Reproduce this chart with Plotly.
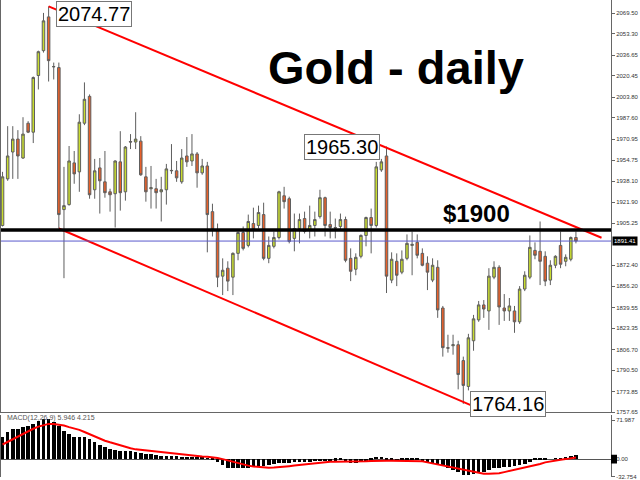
import plotly.graph_objects as go

# ---------------- data ----------------
opens = [1903.6, 1940.0, 1961.0, 1971.1, 1956.3, 1983.5, 1976.5, 2020.8, 2040.2, 2066.6,
         2027.5, 2027.0, 1916.0, 1919.9, 1952.5, 1945.5, 1983.5, 2004.5, 1931.5, 1948.6,
         1937.7, 1929.9, 1928.4, 1953.3, 1929.9, 1969.2, 1968.8, 1969.5, 1941.6, 1932.3,
         1932.3, 1929.9, 1931.5, 1946.3, 1946.3, 1937.7, 1957.9, 1954.0, 1959.5, 1944.7,
         1950.1, 1914.4, 1899.7, 1864.0, 1870.2, 1863.2, 1881.8, 1898.1, 1888.0, 1905.1,
         1903.6, 1912.1, 1877.9, 1887.3, 1894.2, 1926.8, 1924.5, 1893.5, 1901.2, 1909.0,
         1899.7, 1903.6, 1910.5, 1925.3, 1904.3, 1902.0, 1902.8, 1908.2, 1877.9, 1869.4,
         1879.5, 1895.8, 1909.8, 1903.6, 1947.0, 1957.9, 1860.9, 1875.6, 1867.1, 1877.9,
         1888.0, 1890.4, 1881.8, 1874.1, 1860.9, 1870.9, 1839.1, 1808.1, 1809.6, 1810.4,
         1798.0, 1777.8, 1813.5, 1829.8, 1841.5, 1836.8, 1863.2, 1870.9, 1839.1, 1836.8,
         1836.8, 1828.3, 1853.9, 1863.2, 1884.1, 1883.4, 1879.5, 1860.9, 1872.5, 1888.0,
         1875.6, 1877.2, 1894.2]
highs = [1945.5, 1981.2, 1981.2, 1978.1, 1988.2, 1985.1, 2020.0, 2040.2, 2069.7, 2074.77,
         2030.9, 2030.9, 1949.4, 1965.7, 1961.8, 1990.5, 2015.4, 2006.0, 1955.6, 1956.3,
         1961.8, 1932.3, 1954.5, 1977.3, 1965.7, 1975.0, 1992.1, 1973.4, 1949.4, 1950.1,
         1940.0, 1941.6, 1951.7, 1967.2, 1954.0, 1963.3, 1972.7, 1975.0, 1961.0, 1955.6,
         1953.3, 1920.6, 1905.1, 1877.9, 1875.6, 1882.6, 1898.9, 1902.8, 1912.1, 1917.5,
         1919.1, 1921.4, 1895.0, 1898.9, 1930.7, 1933.8, 1926.1, 1912.9, 1912.9, 1914.4,
         1919.1, 1914.4, 1931.5, 1926.1, 1914.4, 1909.0, 1912.9, 1910.5, 1885.7, 1881.8,
         1896.6, 1910.5, 1916.8, 1953.3, 1955.6, 1965.30, 1882.6, 1881.8, 1884.1, 1896.6,
         1898.9, 1896.6, 1885.7, 1879.5, 1877.9, 1876.4, 1840.7, 1818.2, 1818.2, 1813.5,
         1801.1, 1818.9, 1833.7, 1844.6, 1845.3, 1870.2, 1875.6, 1872.5, 1850.0, 1846.9,
         1840.7, 1856.2, 1867.8, 1895.8, 1890.4, 1906.7, 1883.4, 1876.4, 1880.3, 1898.9,
         1881.0, 1895.0, 1898.9]
lows = [1902.8, 1938.5, 1940.0, 1940.0, 1955.6, 1975.8, 1968.0, 2009.9, 2038.7, 2016.1,
        2017.7, 1901.2, 1862.4, 1919.1, 1936.2, 1929.9, 1982.0, 1924.5, 1924.5, 1912.9,
        1925.3, 1914.4, 1902.0, 1915.2, 1923.0, 1963.3, 1963.3, 1942.4, 1922.2, 1916.8,
        1916.8, 1906.7, 1919.9, 1943.9, 1937.7, 1936.2, 1949.4, 1950.1, 1933.1, 1943.2,
        1882.6, 1895.0, 1855.4, 1849.2, 1852.3, 1849.2, 1876.4, 1884.1, 1886.5, 1893.5,
        1901.2, 1876.4, 1874.1, 1885.7, 1892.7, 1916.8, 1889.6, 1883.4, 1889.6, 1897.3,
        1893.5, 1895.0, 1909.0, 1895.0, 1893.5, 1893.5, 1899.7, 1874.8, 1860.1, 1864.7,
        1877.9, 1887.3, 1881.8, 1902.0, 1945.5, 1850.8, 1858.5, 1856.2, 1865.5, 1876.4,
        1864.7, 1877.9, 1871.7, 1853.1, 1859.3, 1831.4, 1801.1, 1804.2, 1802.6, 1775.5,
        1764.16, 1774.7, 1805.7, 1828.3, 1831.4, 1822.0, 1861.6, 1825.9, 1829.0, 1829.0,
        1819.7, 1826.7, 1852.3, 1861.6, 1877.2, 1857.0, 1856.2, 1857.0, 1870.2, 1870.2,
        1871.7, 1875.6, 1889.6]
closes = [1941.6, 1957.9, 1971.1, 1957.9, 1975.0, 1976.5, 2019.2, 2039.4, 2063.5, 2032.4,
          2027.8, 1912.1, 1919.1, 1954.0, 1943.9, 1984.3, 2002.2, 1927.6, 1946.3, 1938.5,
          1929.2, 1927.6, 1954.0, 1929.2, 1964.9, 1968.8, 1971.1, 1943.2, 1929.9, 1933.1,
          1929.2, 1931.5, 1947.8, 1946.6, 1940.8, 1956.3, 1953.3, 1959.5, 1944.7, 1950.1,
          1912.1, 1900.5, 1863.2, 1868.6, 1860.1, 1881.8, 1898.1, 1885.7, 1906.7, 1900.5,
          1913.7, 1877.9, 1888.0, 1894.2, 1929.9, 1922.2, 1891.1, 1901.2, 1908.2, 1898.9,
          1903.6, 1908.2, 1925.3, 1903.6, 1902.0, 1901.6, 1908.2, 1876.4, 1867.8, 1878.7,
          1895.8, 1909.8, 1903.6, 1949.4, 1953.3, 1864.0, 1877.2, 1864.7, 1877.2, 1889.6,
          1888.8, 1880.3, 1872.5, 1867.1, 1872.5, 1837.6, 1808.1, 1807.7, 1810.4, 1787.1,
          1778.6, 1815.8, 1830.6, 1841.5, 1838.3, 1864.0, 1870.9, 1839.9, 1836.8, 1840.7,
          1828.3, 1853.9, 1864.7, 1886.5, 1880.3, 1875.6, 1860.1, 1872.5, 1879.5, 1873.3,
          1878.7, 1894.2, 1891.41]

macd_main = [40, 49, 54, 55, 58, 61, 65, 70, 73, 73,
             68, 60, 52, 46, 41, 40, 40, 36, 30, 25,
             21, 18, 17, 15, 14, 14, 12.5, 11, 9, 8,
             6.5, 5.4, 4.8, 4.8, 4.2, 3.6, 3.6, 3, 3, 2.4,
             1.2, -1.2, -6, -12, -17, -18, -18, -18, -17, -16,
             -14, -13, -11, -9.5, -7.7, -7, -7, -6.5, -6, -6,
             -5.4, -4.8, -4.8, -4, -4, -3.5, -3, -6, -7, -7,
             -6, -4, -3.5, 2, 3, -2, -3, -4, -3, -2.5,
             -2, -2.5, -4, -6, -7, -9, -14, -17, -20, -24,
             -30, -30, -28, -26, -24, -21, -18, -17, -16, -15,
             -14, -11, -9, -6, -3, -2, -1, 0, 0.6, 1.2,
             2.4, 4.2, 6]
macd_signal = [27, 32, 37, 42, 47, 52, 56, 60, 63, 65,
               65, 64, 62, 59, 57, 54, 50, 46, 41, 37,
               34, 31, 28, 25, 22, 20, 18, 17, 15, 14,
               13, 12, 11, 10, 9, 8.5, 7.5, 6.5, 6, 5,
               4.5, 3.5, 2, 0, -2.5, -5, -7.5, -10, -12, -13.5,
               -14.5, -15, -16, -15.5, -15, -14, -13, -12, -11, -10,
               -9, -8, -6, -5.5, -5, -5, -5, -5, -5, -5,
               -4.5, -4, -3.5, -3, -3, -3, -3, -3, -3, -3,
               -3, -3, -4, -6, -8, -10, -12, -14, -16, -18,
               -20, -22, -24, -26, -27, -27, -26.5, -26, -24, -22,
               -20, -18, -16, -14, -11.5, -9, -6, -4, -2.5, -1,
               0, 1.5, 3]

bar_index = list(range(len(opens)))

price_ticks = [2069.50, 2053.30, 2036.65, 2020.45, 2003.80, 1987.60, 1970.95,
               1954.75, 1938.10, 1921.90, 1905.25, 1872.40, 1856.20,
               1839.55, 1823.35, 1806.70, 1790.50, 1773.85, 1757.65]
macd_ticks = [71.987, 0.0, -32.754]
macd_tick_text = ["71.987", "0.00", "-32.754"]

# trend channel anchors (bar index, price)
upper_x = [9, 117.0]
upper_y = [2074.77, 1894.0]
lower_x = [11, 95.2]
lower_y = [1901.2, 1756.8]

level_1900 = 1900.0
last_price = 1891.41
high_label = (9, 2074.77, "2074.77")
mid_label = (75, 1965.30, "1965.30")
low_label = (90, 1764.16, "1764.16")

# ---------------- figure ----------------
fig = go.Figure()

fig.add_trace(go.Candlestick(
    x=bar_index, open=opens, high=highs, low=lows, close=closes,
    increasing=dict(fillcolor="#c8dc30", line=dict(color="#5e5e5e", width=1)),
    decreasing=dict(fillcolor="#e8602a", line=dict(color="#5e5e5e", width=1)),
    whiskerwidth=0, showlegend=False, xaxis="x", yaxis="y", hoverinfo="skip"))

fig.add_trace(go.Scatter(x=upper_x, y=upper_y, mode="lines",
                         line=dict(color="#ff0000", width=2), showlegend=False,
                         xaxis="x", yaxis="y", hoverinfo="skip"))
fig.add_trace(go.Scatter(x=lower_x, y=lower_y, mode="lines",
                         line=dict(color="#ff0000", width=2), showlegend=False,
                         xaxis="x", yaxis="y", hoverinfo="skip"))

fig.add_trace(go.Bar(x=bar_index, y=macd_main, marker=dict(color="#000000", line=dict(width=0)),
                     width=0.7, showlegend=False, xaxis="x2", yaxis="y2", hoverinfo="skip"))
fig.add_trace(go.Scatter(x=bar_index, y=macd_signal, mode="lines",
                         line=dict(color="#ff0000", width=2), showlegend=False,
                         xaxis="x2", yaxis="y2", hoverinfo="skip"))

tick_font = dict(family="Liberation Sans, Arial", size=6, color="#333")
xr = [-0.3, 118.85]
fig.update_layout(
    width=640, height=480,
    margin=dict(l=1, r=29, t=0, b=0),
    paper_bgcolor="white", plot_bgcolor="white",
    bargap=0,
    xaxis=dict(domain=[0, 1], range=xr, showgrid=False, zeroline=False,
               showticklabels=False, ticks="", rangeslider=dict(visible=False),
               showline=True, linecolor="#666", linewidth=1, anchor="y"),
    yaxis=dict(domain=[65 / 480, 1], range=[1757.5, 2079.8], side="right",
               showgrid=False, zeroline=False, tickvals=price_ticks,
               ticktext=["%.2f" % v for v in price_ticks],
               ticks="outside", ticklen=3, tickcolor="#666", tickfont=tick_font,
               showline=True, linecolor="#666", linewidth=1, mirror=True, anchor="x"),
    xaxis2=dict(domain=[0, 1], range=xr, showgrid=False, zeroline=False,
                showticklabels=False, ticks="", anchor="y2", showline=False),
    yaxis2=dict(domain=[0, 62 / 480], range=[-33, 80.7], side="right",
                showgrid=False, zeroline=True, zerolinecolor="#555", zerolinewidth=1,
                tickvals=macd_ticks, ticktext=macd_tick_text,
                ticks="outside", ticklen=3, tickcolor="#666", tickfont=tick_font,
                showline=True, linecolor="#666", linewidth=1, mirror=True, anchor="x2"),
    shapes=[
        dict(type="line", xref="paper", yref="y", x0=0, x1=1, y0=level_1900, y1=level_1900,
             line=dict(color="#000000", width=3.5)),
        dict(type="line", xref="paper", yref="y", x0=0, x1=1, y0=last_price, y1=last_price,
             line=dict(color="#5a5acd", width=1)),
        dict(type="rect", xref="paper", yref="y2", x0=1.0, x1=1.0 + 6 / 610, y0=-8, y1=8,
             fillcolor="#000000", line=dict(width=0)),
    ],
)

box = dict(bgcolor="white", bordercolor="#777", borderwidth=1, borderpad=1,
           font=dict(family="Liberation Sans, Arial", size=20, color="#000"), showarrow=False)
fig.add_annotation(x=high_label[0], y=high_label[1], text=high_label[2], xref="x", yref="y",
                   xanchor="left", yanchor="top", xshift=7, yshift=5, **box)
fig.add_annotation(x=mid_label[0], y=mid_label[1], text=mid_label[2], xref="x", yref="y",
                   xanchor="right", yanchor="middle", xshift=-7, **box)
fig.add_annotation(x=low_label[0], y=low_label[1], text=low_label[2], xref="x", yref="y",
                   xanchor="left", yanchor="middle", xshift=7, **box)

fig.add_annotation(text="<b>Gold - daily</b>", xref="paper", yref="paper", x=0.6475, y=1 - 68 / 480,
                   xanchor="center", yanchor="middle", showarrow=False,
                   font=dict(family="Liberation Sans, Arial", size=47, color="#000"))
fig.add_annotation(text="<b>$1900</b>", xref="paper", yref="paper", x=0.780, y=1 - 215 / 480,
                   xanchor="center", yanchor="middle", showarrow=False,
                   font=dict(family="Liberation Sans, Arial", size=24, color="#000"))

fig.add_annotation(text="%.2f" % last_price, xref="paper", yref="y", x=1.0, y=last_price,
                   xanchor="left", yanchor="middle", xshift=1, showarrow=False,
                   bgcolor="#000000", borderpad=1,
                   font=dict(family="Liberation Sans, Arial", size=6, color="#ffffff"))

fig.add_annotation(text="MACD(12,26,9) 5.946 4.215", xref="paper", yref="paper",
                   x=4 / 610, y=1 - 421 / 480, xanchor="left", yanchor="middle", showarrow=False,
                   font=dict(family="Liberation Sans, Arial", size=7, color="#555"))

fig.write_html("out.html", config={"displayModeBar": False},
               post_script="document.body.style.margin='0';document.body.style.overflow='hidden';")
